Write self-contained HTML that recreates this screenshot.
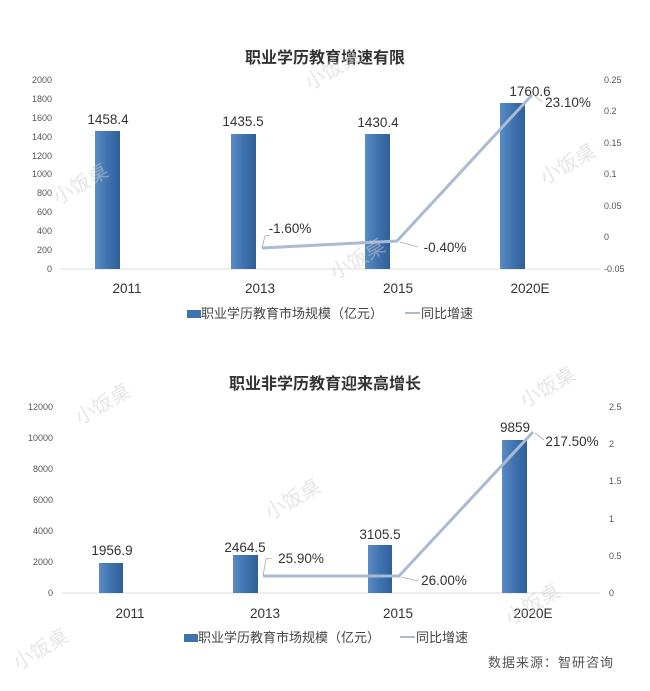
<!DOCTYPE html>
<html><head><meta charset="utf-8"><style>
body{margin:0;background:#fff}
text{font-family:"Liberation Sans","Noto Sans CJK SC",sans-serif}
</style></head><body>
<svg width="650" height="686" xmlns="http://www.w3.org/2000/svg">
<defs><linearGradient id="g" x1="0" x2="1" y1="0" y2="0"><stop offset="0" stop-color="#5a8cc4"/><stop offset="0.5" stop-color="#3f73b0"/><stop offset="1" stop-color="#2f5f98"/></linearGradient></defs>
<rect width="650" height="686" fill="#fff"/>
<!-- Chart 1 -->
<text x="325" y="63" font-size="16" font-weight="bold" text-anchor="middle" fill="#333">职业学历教育增速有限</text>
<g font-size="9" fill="#555" text-anchor="end">
<text x="52" y="83">2000</text><text x="52" y="102">1800</text><text x="52" y="121">1600</text><text x="52" y="140">1400</text><text x="52" y="159">1200</text><text x="52" y="177">1000</text><text x="52" y="196">800</text><text x="52" y="215">600</text><text x="52" y="234">400</text><text x="52" y="253">200</text><text x="52" y="272">0</text>
</g>
<g font-size="9" fill="#555">
<text x="604" y="83">0.25</text><text x="604" y="114">0.2</text><text x="604" y="146">0.15</text><text x="604" y="177">0.1</text><text x="604" y="209">0.05</text><text x="604" y="240">0</text><text x="604" y="272">-0.05</text>
</g>
<line x1="60" y1="269" x2="600" y2="269" stroke="#ddd"/>
<rect x="95" y="131" width="25" height="138" fill="url(#g)"/>
<rect x="231" y="134" width="25" height="135" fill="url(#g)"/>
<rect x="365" y="134" width="25" height="135" fill="url(#g)"/>
<rect x="500" y="103" width="25" height="166" fill="url(#g)"/>
<g font-size="13.5" fill="#333" text-anchor="middle">
<text x="108" y="124">1458.4</text><text x="243" y="126">1435.5</text><text x="378" y="127">1430.4</text><text x="530" y="96">1760.6</text>
<text x="290" y="233">-1.60%</text><text x="445" y="252">-0.40%</text><text x="568" y="107">23.10%</text>
<text x="127" y="293">2011</text><text x="260" y="293">2013</text><text x="398" y="293">2015</text><text x="530" y="293">2020E</text>
</g>
<polyline points="262,248 397,241 532,95" fill="none" stroke="#a9bbd3" stroke-width="3"/>
<polyline points="262,248 265,236 270,235" fill="none" stroke="#aaa" stroke-width="0.8"/>
<polyline points="400,242 418,247" fill="none" stroke="#aaa" stroke-width="0.8"/>
<polyline points="534,95 542,102" fill="none" stroke="#aaa" stroke-width="0.8"/>
<rect x="187" y="310" width="14" height="8" fill="#3f73b0"/>
<text x="201" y="318" font-size="13" fill="#444">职业学历教育市场规模（亿元）</text>
<line x1="405" y1="313" x2="420" y2="313" stroke="#a9bbd3" stroke-width="2"/>
<text x="421" y="318" font-size="13" fill="#444">同比增速</text>
<!-- Chart 2 -->
<text x="325" y="389" font-size="16" font-weight="bold" text-anchor="middle" fill="#333">职业非学历教育迎来高增长</text>
<g font-size="9" fill="#555" text-anchor="end">
<text x="53" y="410">12000</text><text x="53" y="441">10000</text><text x="53" y="472">8000</text><text x="53" y="503">6000</text><text x="53" y="534">4000</text><text x="53" y="565">2000</text><text x="53" y="596">0</text>
</g>
<g font-size="9" fill="#555">
<text x="609" y="410">2.5</text><text x="609" y="447">2</text><text x="609" y="484">1.5</text><text x="609" y="522">1</text><text x="609" y="559">0.5</text><text x="609" y="596">0</text>
</g>
<line x1="62" y1="593" x2="600" y2="593" stroke="#ddd"/>
<rect x="99" y="563" width="24" height="30" fill="url(#g)"/>
<rect x="233" y="555" width="25" height="38" fill="url(#g)"/>
<rect x="368" y="545" width="24" height="48" fill="url(#g)"/>
<rect x="502" y="440" width="25" height="153" fill="url(#g)"/>
<g font-size="13.5" fill="#333" text-anchor="middle">
<text x="112" y="555">1956.9</text><text x="245" y="552">2464.5</text><text x="380" y="539">3105.5</text><text x="515" y="432">9859</text>
<text x="301" y="563">25.90%</text><text x="444" y="585">26.00%</text><text x="572" y="446">217.50%</text>
<text x="130" y="618">2011</text><text x="265" y="618">2013</text><text x="398" y="618">2015</text><text x="533" y="618">2020E</text>
</g>
<polyline points="263,576 399,576 533,432" fill="none" stroke="#a9bbd3" stroke-width="3"/>
<polyline points="263,576 266,559 272,558" fill="none" stroke="#aaa" stroke-width="0.8"/>
<polyline points="401,577 418,581" fill="none" stroke="#aaa" stroke-width="0.8"/>
<polyline points="535,433 544,440" fill="none" stroke="#aaa" stroke-width="0.8"/>
<rect x="184" y="634" width="14" height="8" fill="#3f73b0"/>
<text x="198" y="642" font-size="13" fill="#444">职业学历教育市场规模（亿元）</text>
<line x1="400" y1="637" x2="415" y2="637" stroke="#a9bbd3" stroke-width="2"/>
<text x="416" y="642" font-size="13" fill="#444">同比增速</text>
<text x="488" y="667" font-size="13" fill="#555" font-family="Noto Serif CJK SC,serif" letter-spacing="1">数据来源：智研咨询</text>
<!-- watermarks -->
<g font-size="20" fill="#ccc" opacity="0.5">
<text transform="translate(310,90) rotate(-30)">小饭桌</text>
<text transform="translate(58,205) rotate(-30)">小饭桌</text>
<text transform="translate(545,185) rotate(-30)">小饭桌</text>
<text transform="translate(335,280) rotate(-30)">小饭桌</text>
<text transform="translate(80,425) rotate(-30)">小饭桌</text>
<text transform="translate(525,408) rotate(-30)">小饭桌</text>
<text transform="translate(270,520) rotate(-30)">小饭桌</text>
<text transform="translate(510,625) rotate(-30)">小饭桌</text>
<text transform="translate(18,670) rotate(-30)">小饭桌</text>
</g>
</svg>
</body></html>
